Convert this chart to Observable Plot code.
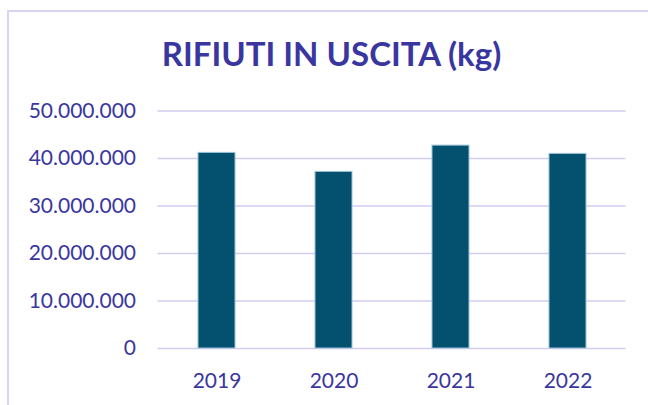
<!DOCTYPE html>
<html>
<head>
<meta charset="utf-8">
<script src="https://cdn.jsdelivr.net/npm/d3@7"></script>
<script src="https://cdn.jsdelivr.net/npm/@observablehq/plot@0.6"></script>
<style>
  html, body { margin: 0; padding: 0; background: #fff; width: 648px; height: 405px; overflow: hidden; }
  #frame { position: absolute; left: 7px; top: 10px; width: 700px; height: 500px;
           border-left: 2px solid #d8d4f4; border-top: 2px solid #d8d4f4; box-sizing: border-box; }
  #title { position: absolute; left: 0; top: 37px; width: 663px; text-align: center;
           font-family: Lato, sans-serif; font-weight: 700; font-size: 33px; line-height: 33px;
           color: #3a369f; white-space: nowrap; }
  #chart { position: absolute; left: 0; top: 90px; }
</style>
</head>
<body>
<div id="frame"></div>
<div id="title">RIFIUTI IN USCITA (kg)</div>
<div id="chart"></div>
<script>
const years = ["2019", "2020", "2021", "2022"];
const values = [41180000, 37180000, 42710000, 40970000];
const yTicks = [0, 10000000, 20000000, 30000000, 40000000, 50000000];

const data = years.map((y, i) => ({year: y, value: values[i]}));
const it = d3.formatLocale({decimal: ",", thousands: ".", grouping: [3], currency: ["€", ""]});
const fmt = it.format(",");
const textColor = "#3a369f";

const chart = Plot.plot({
  width: 648,
  height: 315,
  marginLeft: 157.5,
  marginRight: 22.5,
  marginTop: 20.5,
  marginBottom: 57,
  style: {fontFamily: "Lato, sans-serif", fontSize: "21px", color: textColor, background: "transparent"},
  x: {domain: years, padding: 0, label: null},
  y: {domain: [0, 50000000], label: null},
  marks: [
    Plot.gridY(yTicks, {stroke: "#d2cdf1", strokeOpacity: 1, strokeWidth: 1.4}),
    Plot.barY(data, {x: "year", y: "value", fill: "#04506f", stroke: "#9cc2d6", strokeWidth: 1, insetLeft: 40, insetRight: 40}),
    Plot.axisY({ticks: yTicks, tickFormat: fmt, tickSize: 0, tickPadding: 22, fill: textColor, label: null}),
    Plot.axisX({tickSize: 0, tickPadding: 25, fill: textColor, label: null})
  ]
});
document.getElementById("chart").appendChild(chart);
</script>
</body>
</html>
